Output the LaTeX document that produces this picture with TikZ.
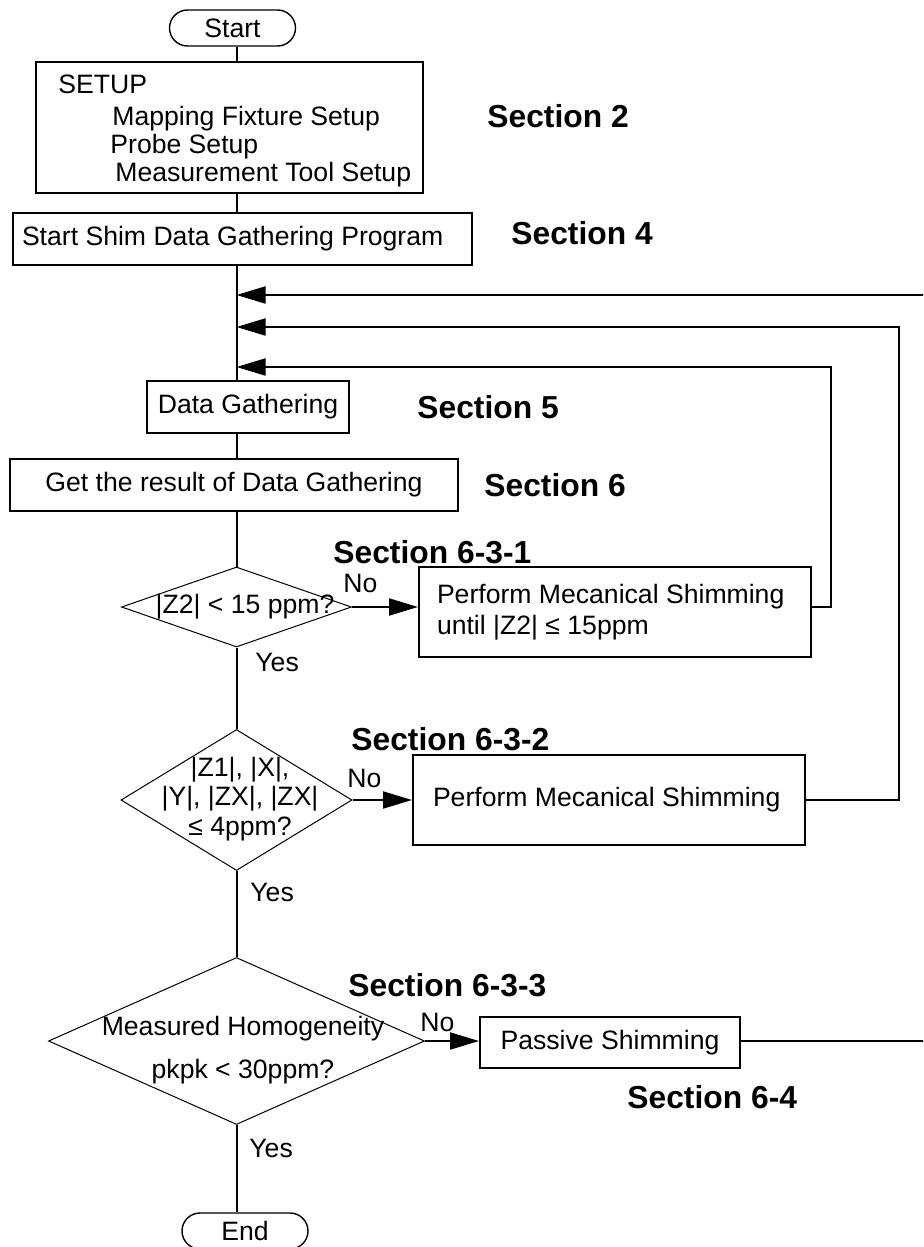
\documentclass[tikz,border=0pt]{standalone}
\usepackage{fontspec}
\setmainfont{Liberation Sans}
\usetikzlibrary{positioning,arrows.meta,shapes.geometric}

\begin{document}
\begin{tikzpicture}[
  x=0.5pt, y=-0.5pt,
  font=\fontsize{13.3}{15.6}\selectfont,
  box/.style={draw, line width=1pt, inner sep=0pt, minimum height=26pt},
  leftbox/.style={box, align=left, execute at begin node={\spaceskip=0pt\relax}},
  term/.style={draw, line width=0.7pt, rounded corners=9pt, minimum width=63pt, minimum height=18pt, inner sep=0pt},
  dia/.style={draw, diamond, line width=0.5pt, inner sep=0pt},
  sec/.style={font=\fontsize{15.9}{18}\selectfont\bfseries, inner sep=0pt, anchor=west},
  lbl/.style={inner sep=0pt, anchor=west},
  line/.style={line width=1pt},
  arr/.style={line width=1pt, -{Triangle[length=14.5pt, width=8.5pt]}}
]
\useasboundingbox (0,0) rectangle (923,1247);
\clip (0,0) rectangle (923,1247);
\coordinate (axis) at (236.5,0);

\node[term] (start) at (232.5,28) {Start\hspace{6pt}};
\node[box, minimum width=193.5pt, minimum height=65.5pt] (setup) at (229.5,127.5) {};
\node[lbl, anchor=base west] (setupttl) at (58,94) {SETUP};
\node[lbl, anchor=base west] (mapfix) at (112,126) {Mapping Fixture Setup};
\node[lbl, anchor=base west] (probe) at (110,154) {Probe Setup};
\node[lbl, anchor=base west] (meastool) at (115,181) {Measurement Tool Setup};
\node[sec] (sec2) at (487,116) {Section 2};

\node[leftbox, minimum width=229.5pt, text width=220.5pt, inner xsep=4.5pt] (shim) at (242.5,239) {Start Shim Data Gathering Program};
\node[sec] (sec4) at (511,233.5) {Section 4};

\coordinate (in3) at (236.5,295);
\coordinate (in2) at (236.5,327);
\coordinate (in1) at (236.5,367);

\node[box, minimum width=101pt] (datag) at (248,407) {Data Gathering};
\node[sec, right=33.5pt of datag] (sec5) {Section 5};
\node[box, minimum width=224pt] (result) at (234,485) {Get the result of Data Gathering};
\node[sec, right=12.5pt of result] (sec6) {Section 6};

\node[dia, minimum width=115pt, minimum height=40pt] (d1) at (236.5,607) {};
\node (d1txt) at (245,607) {|Z2| < 15 ppm?};
\node[lbl] (no1) at (343,583) {No};
\node[sec] (s631) at (333,552) {Section 6-3-1};
\node[leftbox, minimum width=196pt, minimum height=45pt, text width=178pt, inner xsep=9pt] (box1) at (615,612) {Perform Mecanical Shimming\\until |Z2| ≤ 15ppm};
\node[lbl] (yes1) at (255,662) {Yes};

\node[dia, minimum width=115.5pt, minimum height=70.5pt] (d2) at (236.5,800) {};
\node[align=center, font=\fontsize{13.3}{14.75}\selectfont] (d2txt) at (240,799) {|Z1|, |X|,\\|Y|, |ZX|, |ZX|\\≤ 4ppm?};
\node[lbl] (no2) at (347,778) {No};
\node[sec] (s632) at (351,739) {Section 6-3-2};
\node[leftbox, minimum width=196pt, minimum height=45pt, text width=176pt, inner xsep=10pt] (box2) at (609,800) {Perform Mecanical Shimming};
\node[lbl] (yes2) at (250,892) {Yes};

\node[dia, minimum width=188pt, minimum height=83.5pt] (d3) at (236.5,1041) {};
\node[align=center] (d3txt) at (243,1050) {Measured Homogeneity\\[6pt]pkpk < 30ppm?};
\node[lbl] (no3) at (420,1022) {No};
\node[sec] (s633) at (348,985) {Section 6-3-3};
\node[box, minimum width=130pt, minimum height=25.5pt] (pas) at (610,1042.5) {Passive Shimming};
\node[sec] (s64) at (627,1097) {Section 6-4};
\node[lbl] (yes3) at (249,1148) {Yes};
\node[term] (end) at (245,1231) {End\hspace{14pt}};

\draw[line] (start.south -| axis) -- (setup.north -| axis);
\draw[line] (setup.south -| axis) -- (shim.north -| axis);
\draw[line] (shim.south -| axis) -- (datag.north -| axis);
\draw[line] (datag.south -| axis) -- (result.north -| axis);
\draw[line] (result.south -| axis) -- (d1.north);
\draw[line] (d1.south) -- (d2.north);
\draw[line] (d2.south) -- (d3.north);
\draw[line] (d3.south) -- (end.north -| axis);

\draw[arr] (d1.east) -- (box1.west |- d1.east);
\draw[arr] (box1.east |- d1.east) -- ++(19,0) |- (in1);
\draw[arr] (d2.east) -- (box2.west |- d2.east);
\draw[arr] (box2.east |- d2.east) -- ++(93,0) |- (in2);
\draw[arr] (d3.east) -- (pas.west |- d3.east);
\draw[arr] (pas.east |- d3.east) -- ++(220,0) |- (in3);
\end{tikzpicture}
\end{document}
